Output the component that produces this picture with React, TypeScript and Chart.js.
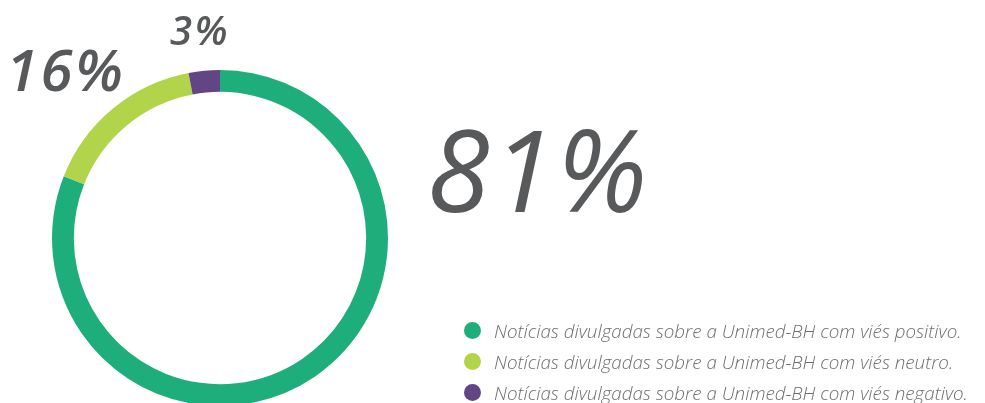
import React, { useEffect, useRef } from "react";
import { Chart, registerables } from "chart.js";

Chart.register(...registerables);

const categories = [
  "Notícias divulgadas sobre a Unimed-BH com viés positivo.",
  "Notícias divulgadas sobre a Unimed-BH com viés neutro.",
  "Notícias divulgadas sobre a Unimed-BH com viés negativo.",
];
const values = [81, 16, 3];
const colors = ["#1EAE7C", "#B2D44A", "#634586"];

const W = 985;
const H = 420;

export default function App() {
  const ref = useRef<HTMLCanvasElement | null>(null);
  useEffect(() => {
    if (!ref.current) return;
    const chart = new Chart(ref.current, {
      type: "doughnut",
      data: {
        labels: categories,
        datasets: [
          {
            data: values,
            backgroundColor: colors,
            borderWidth: 0,
          },
        ],
      },
      options: {
        responsive: false,
        animation: false,
        cutout: "87%",
        layout: { padding: { left: 52, right: W - 388, top: 70, bottom: H - 406 } },
        plugins: { legend: { display: false }, tooltip: { enabled: false } },
      },
    });
    return () => chart.destroy();
  }, []);

  const gray = "#58595B";
  const font = "'Open Sans', 'Noto Sans', sans-serif";
  return (
    <div style={{ position: "fixed", left: 0, top: 0, width: W, height: 403, overflow: "hidden", background: "#fff" }}>
      <canvas ref={ref} width={W} height={H} style={{ position: "absolute", left: 0, top: 0, width: W, height: H }} />
      <div style={{ position: "absolute", left: 427, top: 98, fontFamily: font, fontStyle: "italic", fontWeight: 400, fontSize: 114, lineHeight: "140px", color: gray, letterSpacing: 2 }}>
        {values[0]}%
      </div>
      <div style={{ position: "absolute", left: 6, top: 34, fontFamily: font, fontStyle: "italic", fontWeight: 600, fontSize: 58, lineHeight: "70px", color: gray, letterSpacing: 2.5 }}>
        {values[1]}%
      </div>
      <div style={{ position: "absolute", left: 170, top: 6, fontFamily: font, fontStyle: "italic", fontWeight: 600, fontSize: 40, lineHeight: "48px", color: gray, letterSpacing: 2.5 }}>
        {values[2]}%
      </div>
      <div style={{ position: "absolute", left: 464, top: 315 }}>
        {categories.map((c, i) => (
          <div key={c} style={{ display: "flex", alignItems: "center", height: 31 }}>
            <span style={{ width: 17, height: 17, borderRadius: "50%", background: colors[i], display: "inline-block", marginRight: 13, flexShrink: 0 }} />
            <span style={{ fontFamily: font, fontStyle: "italic", fontWeight: 300, fontSize: 18.8, color: "#6D6E71", whiteSpace: "nowrap" }}>{c}</span>
          </div>
        ))}
      </div>
    </div>
  );
}
